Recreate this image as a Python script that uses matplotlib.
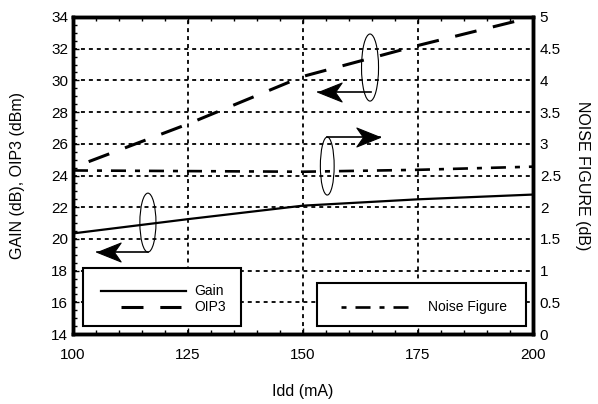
import matplotlib
matplotlib.use("Agg")
import matplotlib.pyplot as plt
from matplotlib.patches import Ellipse, Rectangle
from matplotlib.path import Path
from matplotlib.ticker import MultipleLocator, FuncFormatter

# values
idd = [100, 125, 150, 175, 200]
gain = [20.35, 21.25, 22.1, 22.5, 22.8]
oip3 = [24.5, 27.25, 30.25, 32.2, 34.0]
nf = [2.58, 2.57, 2.56, 2.59, 2.64]

plt.rcParams.update({"font.family": ["Liberation Sans", "DejaVu Sans"], "font.size": 11})
K = "black"

fig = plt.figure(figsize=(5.98, 4.04), dpi=100)
ax = fig.add_axes([0.122, 0.173, 0.769, 0.785])
ax2 = ax.twinx()

ax.plot(idd, gain, color=K, lw=1.6, zorder=3)
ax.plot(idd, oip3, color=K, lw=2.2, linestyle=(7.2, (7.2, 5.5)), zorder=3)
ax2.plot(idd, nf, color=K, lw=1.9, linestyle=(0, (5.7, 3.4, 1.9, 3.4)), zorder=3)

ax.set_xlim(100, 200); ax.set_ylim(14, 34)
ax2.set_ylim(0, 5)
ax.xaxis.set_major_locator(MultipleLocator(25)); ax.xaxis.set_minor_locator(MultipleLocator(5))
ax.yaxis.set_major_locator(MultipleLocator(2)); ax.yaxis.set_minor_locator(MultipleLocator(0.5))
ax2.yaxis.set_major_locator(MultipleLocator(0.5))
ax2.yaxis.set_major_formatter(FuncFormatter(lambda v, p: f"{v:g}"))

ax.grid(True, which="major", color=K, lw=1.3, linestyle=(0, (2.2, 2.2)))
ax.set_axisbelow(True)
ax.tick_params(which="both", direction="in", top=True, right=False, width=1, colors=K)
ax.tick_params(which="major", length=4)
ax.tick_params(which="minor", length=3)
ax.tick_params(axis="x", pad=10)
ax.tick_params(axis="y", pad=3.5)
ax2.tick_params(direction="in", length=0, pad=5)
for a in (ax, ax2):
    for s in a.spines.values():
        s.set_linewidth(2.5)

ax.set_xlabel("Idd (mA)", fontsize=11.5)
ax.set_ylabel("GAIN (dB), OIP3 (dBm)", fontsize=11.5)
ax2.set_ylabel("NOISE FIGURE (dB)", fontsize=11.5, rotation=-90, va="center")
ax.xaxis.set_label_coords(0.5, -0.157)
ax.yaxis.set_label_coords(-0.105, 0.5)
ax2.yaxis.set_label_coords(1.109, 0.5)

# ellipse + arrow callouts pointing at the matching axis
head_l = Path([(0, 0), (1, 0.4), (0.72, 0), (1, -0.4), (0, 0)],
              [Path.MOVETO, Path.LINETO, Path.LINETO, Path.LINETO, Path.CLOSEPOLY])
head_r = Path([(0, 0), (-1, 0.4), (-0.72, 0), (-1, -0.4), (0, 0)],
              [Path.MOVETO, Path.LINETO, Path.LINETO, Path.LINETO, Path.CLOSEPOLY])
callouts = [((164.6, 30.81), 3.7, 4.23, (164.9, 153.3, 29.29), head_l),
            ((155.3, 24.6), 3.0, 3.66, (155.15, 166.7, 26.41), head_r),
            ((116.3, 21.03), 3.5, 3.72, (116.3, 105.2, 19.2), head_l)]
for c, w, h, (x0, x1, y), hd in callouts:
    ax.add_patch(Ellipse(c, w, h, fill=False, ec=K, lw=0.8, zorder=4))
    ax.plot([x0, x1], [y, y], color=K, lw=1.2, zorder=4)
    ax.plot([x1], [y], marker=hd, ms=34, mfc=K, mec=K, mew=0.8, zorder=4)

# hand-drawn legend boxes
ax.add_patch(Rectangle((0.0217, 0.025), 0.343, 0.183, transform=ax.transAxes,
                       fc="white", ec=K, lw=1.5, zorder=5))
ax.plot([0.0609, 0.2457], [0.1356, 0.1356], transform=ax.transAxes, color=K, lw=1.6, zorder=6)
ax.plot([0.104, 0.235], [0.0852, 0.0852], transform=ax.transAxes, color=K, lw=2.2,
        linestyle=(0, (7.2, 5.5)), zorder=6)
ax.text(0.263, 0.1356, "Gain", transform=ax.transAxes, va="center", fontsize=10, zorder=6)
ax.text(0.263, 0.0852, "OIP3", transform=ax.transAxes, va="center", fontsize=10, zorder=6)

ax.add_patch(Rectangle((0.530, 0.025), 0.455, 0.136, transform=ax.transAxes,
                       fc="white", ec=K, lw=1.5, zorder=5))
ax.plot([0.583, 0.730], [0.085, 0.085], transform=ax.transAxes, color=K, lw=1.9,
        linestyle=(0, (1.9, 3.4, 5.7, 3.4)), zorder=6)
ax.text(0.772, 0.085, "Noise Figure", transform=ax.transAxes, va="center", fontsize=10, zorder=6)

fig.savefig("out.png", dpi=100, facecolor="white")
